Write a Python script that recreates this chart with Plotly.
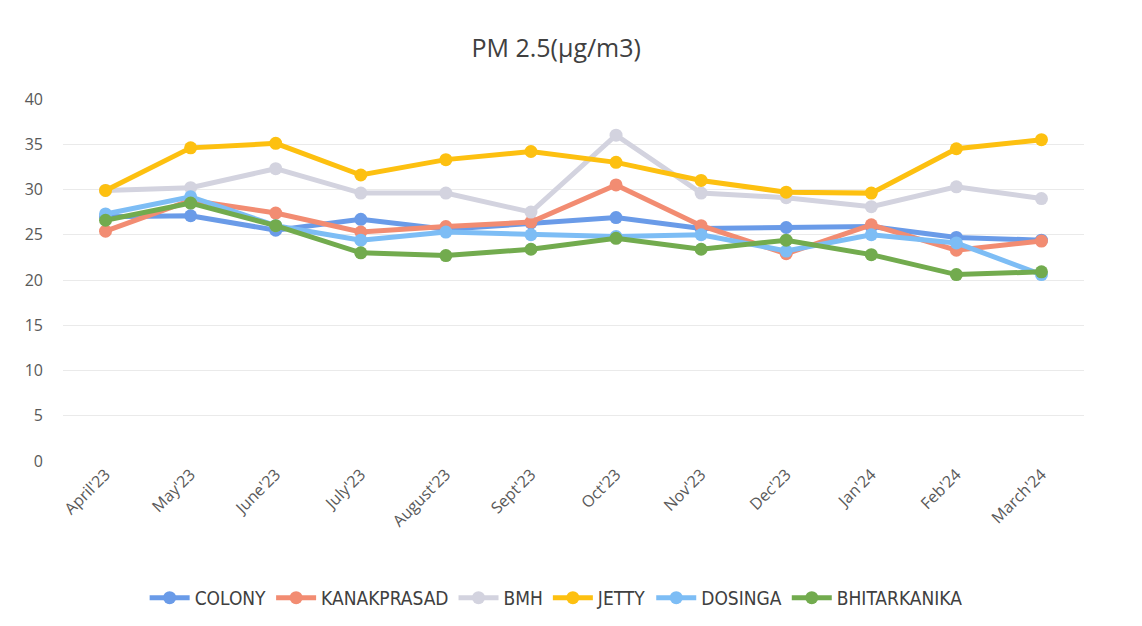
import plotly.graph_objects as go

months = ["April'23", "May'23", "June'23", "July'23", "August'23", "Sept'23",
          "Oct'23", "Nov'23", "Dec'23", "Jan'24", "Feb'24", "March'24"]

colony = [27.0, 27.1, 25.5, 26.7, 25.6, 26.3, 26.9, 25.7, 25.8, 25.9, 24.7, 24.4]
kanakprasad = [25.4, 28.8, 27.4, 25.3, 25.9, 26.4, 30.5, 26.0, 22.9, 26.1, 23.3, 24.3]
bmh = [29.9, 30.2, 32.3, 29.6, 29.6, 27.5, 36.0, 29.6, 29.1, 28.1, 30.3, 29.0]
jetty = [29.9, 34.6, 35.1, 31.6, 33.3, 34.2, 33.0, 31.0, 29.7, 29.6, 34.5, 35.5]
dosinga = [27.3, 29.2, 26.0, 24.4, 25.3, 25.0, 24.8, 25.0, 23.2, 25.0, 24.1, 20.6]
bhitarkanika = [26.6, 28.5, 26.0, 23.0, 22.7, 23.4, 24.6, 23.4, 24.4, 22.8, 20.6, 20.9]

series = [
    ("COLONY", colony, "#6A9BE8"),
    ("KANAKPRASAD", kanakprasad, "#F28C72"),
    ("BMH", bmh, "#D3D3DF"),
    ("JETTY", jetty, "#FDC010"),
    ("DOSINGA", dosinga, "#7DBDF5"),
    ("BHITARKANIKA", bhitarkanika, "#72AB4E"),
]

fig = go.Figure()
for name, vals, col in series:
    fig.add_trace(go.Scatter(
        x=months, y=vals, name=name, mode="lines+markers",
        line=dict(color=col, width=5),
        marker=dict(color=col, size=13),
    ))

fig.update_layout(
    width=1142, height=626,
    paper_bgcolor="white", plot_bgcolor="white",
    margin=dict(l=55, r=66, t=91, b=173),
    title=dict(text="PM 2.5(µg/m3)", x=0.48, xanchor="center", y=0.936, yanchor="middle",
               font=dict(family="Open Sans", size=25, color="#404040")),
    font=dict(family="Open Sans", color="#595959"),
    xaxis=dict(range=[-0.5, 11.5], tickangle=-45, showgrid=False, showline=False,
               ticks="", tickfont=dict(size=16, color="#595959")),
    yaxis=dict(range=[0, 40], dtick=5, showgrid=True, gridcolor="#EAEAEA", gridwidth=1,
               zeroline=False, showline=False, ticks="", ticklabelstandoff=19,
               tickfont=dict(size=16, color="#595959")),
    legend=dict(orientation="h", x=0.483, xanchor="center", y=-0.378, yanchor="middle",
                font=dict(family="DejaVu Sans Condensed, Liberation Sans Narrow, sans-serif",
                          size=19, color="#404040"),
                itemwidth=40, tracegroupgap=0),
    showlegend=True,
)

fig.write_html("out.html")
